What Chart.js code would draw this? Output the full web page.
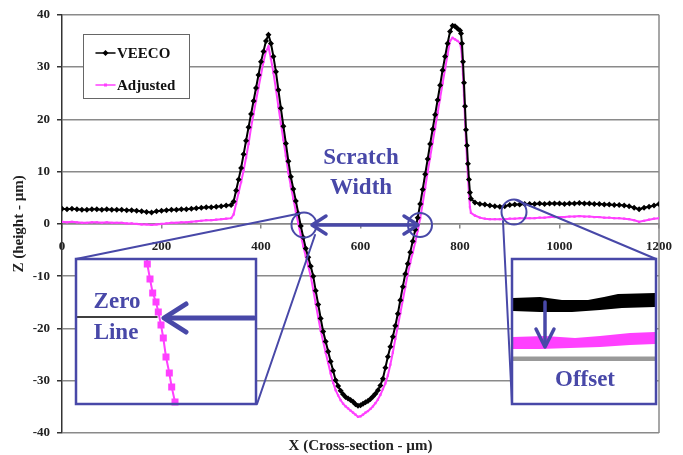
<!DOCTYPE html>
<html>
<head>
<meta charset="utf-8">
<script src="https://cdn.jsdelivr.net/npm/chart.js@4"></script>
<style>
  body { margin: 0; background: #fff; }
</style>
</head>
<body>
<canvas id="myChart" width="683" height="455"></canvas>
<script>
// profile sample positions (µm)
const xPos = [
  0, 10, 20, 30, 40, 50, 60, 70, 80, 90, 100, 110, 120, 130, 140, 150, 160, 170, 180, 190,
  200, 210, 220, 230, 240, 250, 260, 270, 280, 290, 300, 310, 320, 330, 340,
  345, 350, 355, 360, 365, 370, 375, 380, 385, 390, 395, 400, 405, 410, 415,
  420, 425, 430, 435, 440, 445, 450, 455, 460, 465, 470, 475, 480, 485, 490, 495, 500,
  505, 510, 515, 520, 525, 530, 535, 540, 545, 550, 555, 560, 565, 570, 575, 580, 585, 590, 595, 600,
  605, 610, 615, 620, 625, 630, 635, 640, 645, 650, 655, 660, 665, 670, 675, 680, 685, 690, 695, 700,
  705, 710, 715, 720, 725, 730, 735, 740, 745, 750, 755, 760, 765, 770, 775, 780, 785, 790, 795, 800,
  802, 804, 806, 808, 810, 812, 814, 816, 818, 820, 822,
  830, 840, 850, 860, 870, 880, 890, 900, 910, 920, 930, 940, 950, 960, 970, 980, 990, 1000,
  1010, 1020, 1030, 1040, 1050, 1060, 1070, 1080, 1090, 1100, 1110, 1120, 1130, 1140, 1150, 1160, 1170, 1180, 1190, 1200
];

// VEECO raw profile (µm)
const veeco = [
  2.9, 2.8, 2.9, 2.8, 2.7, 2.7, 2.8, 2.8, 2.7, 2.8, 2.7, 2.7, 2.7, 2.6, 2.6, 2.5, 2.4, 2.3, 2.2, 2.4,
  2.5, 2.6, 2.7, 2.7, 2.8, 2.8, 2.9, 3.0, 3.1, 3.2, 3.2, 3.3, 3.4, 3.5, 3.6,
  4.3, 6.4, 8.5, 10.7, 13.3, 15.9, 18.5, 21.0, 23.5, 26.0, 28.5, 31.0, 33.0, 35.0, 36.2,
  34.5, 32.0, 29.1, 25.6, 22.1, 18.7, 15.4, 12.0, 9.0, 6.7, 4.4, 2.0, -0.4, -2.6, -4.7, -6.4, -8.1,
  -10.0, -12.8, -15.4, -18.1, -20.6, -22.5, -24.4, -26.3, -28.1, -29.9, -31.0, -31.9, -32.6, -33.1, -33.4, -33.7, -34.0, -34.5, -34.8, -34.7,
  -34.4, -34.1, -33.9, -33.5, -33.0, -32.5, -31.8, -30.9, -29.6, -27.5, -25.4, -23.5, -21.6, -19.5, -17.2, -14.6, -12.0, -9.6, -7.6, -5.4,
  -3.3, -1.1, 1.2, 3.8, 6.6, 9.5, 12.4, 15.3, 18.1, 20.9, 23.7, 26.5, 29.4, 32.0, 34.5, 36.8, 37.9, 37.8, 37.4, 37.0,
  36.4, 34.5, 31.0, 27.0, 22.5, 18.0, 15.0, 11.5, 8.5, 6.0, 4.8,
  4.1, 3.8, 3.7, 3.5, 3.4, 3.3, 3.4, 3.6, 3.7, 3.7, 3.8, 3.8, 3.8, 3.9, 3.8, 3.9, 3.9, 3.9,
  3.8, 3.9, 3.9, 4.0, 3.9, 3.9, 3.8, 3.8, 3.7, 3.7, 3.6, 3.6, 3.5, 3.4, 3.1, 2.8, 3.1, 3.3, 3.5, 3.8
];

// offset-corrected profile (µm)
const adjusted = [
  0.4, 0.3, 0.4, 0.3, 0.2, 0.2, 0.3, 0.3, 0.2, 0.3, 0.2, 0.2, 0.2, 0.1, 0.1, 0.0, -0.1, -0.1, -0.2, -0.1,
  0.0, 0.1, 0.2, 0.2, 0.3, 0.3, 0.4, 0.5, 0.6, 0.7, 0.7, 0.8, 0.9, 1.0, 1.1,
  1.8, 3.9, 6.0, 8.0, 10.2, 12.7, 15.3, 18.4, 21.0, 23.6, 26.1, 28.5, 31.0, 33.0, 33.9,
  31.6, 28.9, 25.8, 22.4, 19.2, 16.1, 13.0, 9.8, 7.2, 4.8, 2.4, 0.0, -2.2, -4.3, -6.2, -8.1, -10.0,
  -12.6, -15.3, -17.9, -20.4, -22.5, -24.6, -26.6, -28.6, -30.4, -31.8, -32.8, -33.7, -34.4, -34.9, -35.3, -35.7, -36.1, -36.5, -36.9, -36.8,
  -36.5, -36.1, -35.8, -35.4, -34.9, -34.3, -33.6, -32.7, -31.6, -30.5, -29.0, -26.9, -24.6, -22.0, -19.6, -17.1, -14.6, -12.1, -9.6, -7.4,
  -5.5, -3.5, -1.3, 1.1, 3.9, 6.9, 9.9, 12.8, 15.6, 18.4, 21.2, 24.0, 26.9, 29.6, 32.4, 35.0, 35.6, 35.3, 35.0, 34.6,
  33.8, 32.0, 28.6, 24.6, 20.2, 16.0, 12.5, 9.0, 5.8, 3.2, 2.1,
  1.6, 1.2, 1.0, 0.9, 0.9, 0.9, 0.9, 1.0, 1.0, 1.1, 1.1, 1.1, 1.1, 1.2, 1.2, 1.3, 1.3, 1.3,
  1.3, 1.4, 1.4, 1.5, 1.4, 1.4, 1.3, 1.3, 1.2, 1.2, 1.1, 1.1, 1.0, 0.9, 0.7, 0.4, 0.6, 0.8, 1.0, 1.1
];

const xTicks = [0, 200, 400, 600, 800, 1000, 1200];
const yTicks = [-40, -30, -20, -10, 0, 10, 20, 30, 40];

const serif = 'Liberation Serif';
const ink = '#4848a8';
const pink = '#ff40ff';

function seg(c, x1, y1, x2, y2) {
  c.beginPath(); c.moveTo(x1, y1); c.lineTo(x2, y2); c.stroke();
}
function poly(c, pts) {
  c.beginPath();
  pts.forEach((p, i) => i ? c.lineTo(p[0], p[1]) : c.moveTo(p[0], p[1]));
}

// magnified bits shown in the two callout boxes
const zeroInset = [[147, 259], [147.3, 264], [150, 279], [152.7, 293], [156, 302], [158.3, 312], [161, 325],
  [163.3, 338], [166, 357], [169.3, 373], [171.7, 387], [175, 402], [175.5, 404]];

const overlay = {
  id: 'overlay',
  beforeDatasetsDraw(chart) {
    const c = chart.ctx, a = chart.chartArea;
    c.save();
    c.strokeStyle = '#8a8a8a'; c.lineWidth = 1.5;
    seg(c, a.right, a.top, a.right, a.bottom);
    c.restore();
  },
  afterDatasetsDraw(chart) {
    const c = chart.ctx;
    c.save();
    c.lineCap = 'round'; c.lineJoin = 'round';
    c.strokeStyle = ink; c.fillStyle = ink;

    // leader lines to the callouts
    c.lineWidth = 2;
    seg(c, 76, 259, 297, 214);
    seg(c, 257, 404, 315, 235);
    seg(c, 516, 200, 656, 259);
    seg(c, 503, 221, 512, 404);

    // circles on the zero crossings / baseline
    [[304, 225, 12.5], [420, 225, 12], [514, 212, 12.5]].forEach(o => {
      c.beginPath(); c.arc(o[0], o[1], o[2], 0, Math.PI * 2); c.stroke();
    });

    // scratch width double arrow
    c.lineWidth = 3.5;
    seg(c, 313, 225, 417, 225);
    poly(c, [[326, 216], [312, 225], [326, 234]]); c.stroke();
    poly(c, [[404, 216], [418, 225], [404, 234]]); c.stroke();

    c.font = 'bold 23px ' + serif;
    c.textAlign = 'center'; c.textBaseline = 'middle';
    c.fillText('Scratch', 361, 158);
    c.fillText('Width', 361, 188);

    // left callout: zero line
    c.fillStyle = '#fff';
    c.fillRect(76, 259, 180, 145);
    c.strokeStyle = '#000'; c.lineWidth = 1.5;
    seg(c, 77, 317, 157, 317);
    c.strokeStyle = pink; c.lineWidth = 2;
    poly(c, zeroInset); c.stroke();
    c.fillStyle = pink;
    zeroInset.slice(1, -1).forEach(p => c.fillRect(p[0] - 3.5, p[1] - 3.5, 7, 7));
    c.strokeStyle = ink; c.fillStyle = ink;
    c.lineWidth = 5;
    seg(c, 254, 318, 166, 318);
    poly(c, [[186, 304], [164, 318], [186, 332]]); c.stroke();
    c.font = 'bold 23px ' + serif;
    c.fillText('Zero', 117, 302);
    c.fillText('Line', 116, 333);
    c.lineWidth = 2.5; c.lineJoin = 'miter';
    c.strokeRect(76, 259, 180, 145);

    // right callout: offset
    c.fillStyle = '#fff';
    c.fillRect(512, 259, 144, 145);
    c.fillStyle = '#000';
    poly(c, [[513, 298], [540, 297], [562, 300], [588, 300], [604, 297], [618, 294], [655, 293],
      [655, 307], [622, 308], [600, 310], [572, 312], [540, 312], [513, 311]]);
    c.fill();
    c.fillStyle = pink;
    poly(c, [[513, 337], [545, 336], [575, 338], [600, 336], [630, 333], [655, 332],
      [655, 344], [630, 345], [600, 347], [570, 348], [540, 349], [513, 349]]);
    c.fill();
    c.fillStyle = '#999';
    c.fillRect(513, 356.5, 142, 4.5);
    c.fillStyle = ink; c.lineJoin = 'round';
    c.lineWidth = 3.5;
    seg(c, 545, 302, 545, 345);
    poly(c, [[536, 329], [545, 347], [554, 329]]); c.stroke();
    c.font = 'bold 23px ' + serif;
    c.fillText('Offset', 585, 380);
    c.lineWidth = 2.5; c.lineJoin = 'miter';
    c.strokeRect(512, 259, 144, 145);

    // legend
    c.fillStyle = '#fff';
    c.fillRect(83.5, 34.5, 106, 64);
    c.strokeStyle = '#666'; c.lineWidth = 1;
    c.strokeRect(83.5, 34.5, 106, 64);
    c.font = 'bold 15px ' + serif;
    c.textAlign = 'left';
    const rows = [53, 85];
    chart.data.datasets.forEach((ds, i) => {
      const y = rows[i];
      c.strokeStyle = ds.borderColor; c.fillStyle = ds.borderColor; c.lineWidth = 1.5;
      seg(c, 96, y, 115, y);
      if (ds.pointStyle === 'rectRot') {
        poly(c, [[105.5, y - 3], [108.5, y], [105.5, y + 3], [102.5, y]]); c.fill();
      } else {
        c.fillRect(104, y - 1.5, 3, 3);
      }
      c.fillStyle = '#111';
      c.fillText(ds.label, 117, y + 1);
    });
    c.restore();
  }
};

const tickFont = { family: serif, weight: 'bold', size: 13 };
const titleFont = { family: serif, weight: 'bold', size: 15 };

const ctx = document.getElementById('myChart');
const chart = new Chart(ctx, {
  type: 'line',
  data: {
    datasets: [{
      label: 'VEECO',
      data: xPos.map((x, i) => ({ x: x, y: veeco[i] })),
      borderColor: '#000',
      backgroundColor: '#000',
      borderWidth: 2,
      pointStyle: 'rectRot',
      pointRadius: 3,
      pointBorderWidth: 0
    }, {
      label: 'Adjusted',
      data: xPos.map((x, i) => ({ x: x, y: adjusted[i] })),
      borderColor: pink,
      backgroundColor: pink,
      borderWidth: 2,
      pointStyle: 'rect',
      pointRadius: 1.6,
      pointBorderWidth: 0
    }]
  },
  options: {
    responsive: false,
    animation: false,
    layout: { padding: { top: 14, right: 23, left: 0, bottom: 0 } },
    plugins: { legend: { display: false }, tooltip: { enabled: false } },
    scales: {
      x: {
        type: 'linear', min: 0, max: 1200,
        position: { y: 0 },
        afterBuildTicks: s => { s.ticks = xTicks.map(v => ({ value: v })); },
        grid: { drawOnChartArea: false, drawTicks: true, tickLength: 4, color: '#888', lineWidth: 1.5 },
        border: { color: '#888', width: 1.5 },
        ticks: { font: tickFont, color: '#222', padding: 11, maxRotation: 0, callback: v => String(v) }
      },
      xTitle: {
        type: 'linear', min: 0, max: 1200,
        position: 'bottom',
        grid: { display: false, drawTicks: false },
        border: { display: false },
        ticks: { display: false },
        title: { display: true, text: 'X (Cross-section - µm)', font: titleFont, color: '#222', padding: { top: 4, bottom: 0 } }
      },
      y: {
        min: -40, max: 40,
        afterBuildTicks: s => { s.ticks = yTicks.map(v => ({ value: v })); },
        afterFit: s => { s.width = 62; },
        grid: { color: '#8a8a8a', lineWidth: 1.5, tickLength: 5, tickColor: '#333' },
        border: { color: '#333', width: 1.5 },
        ticks: { font: tickFont, color: '#222', padding: 7 },
        title: { display: true, text: 'Z (height - µm)', font: titleFont, color: '#222', padding: { top: 10, bottom: 0 } }
      }
    }
  },
  plugins: [overlay]
});
</script>
</body>
</html>
